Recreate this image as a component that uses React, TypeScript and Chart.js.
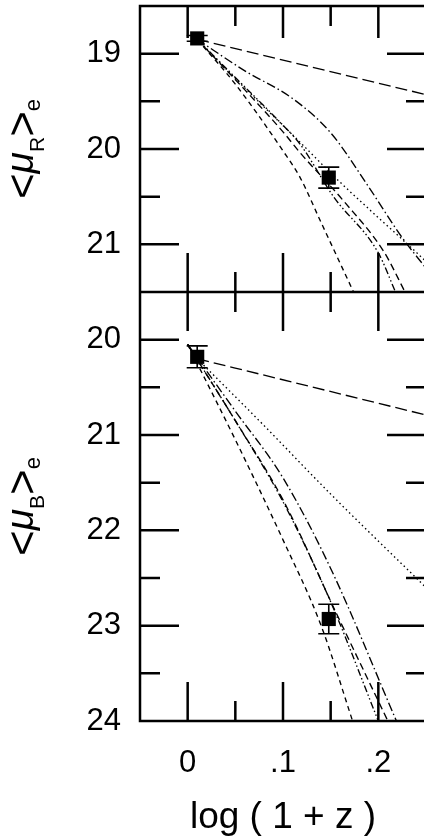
import React, { useEffect, useRef } from "react";
import { Chart, registerables } from "chart.js";

Chart.register(...registerables);

// ---- axis ticks ----
const xTickValues = [0, 0.1, 0.2];
const xTickLabels = ["0", ".1", ".2"];
const xMinorTicks = [0.05, 0.15];
const topYTicks = [19, 20, 21];
const topYMinor = [19.5, 20.5];
const botYTicks = [20, 21, 22, 23, 24];
const botYMinor = [20.5, 21.5, 22.5, 23.5];

// ---- observed points ----
const obsX = [0.01, 0.148];
const obsTopY = [18.84, 20.3];
const obsTopErr = [0.03, 0.11];
const obsBotY = [20.18, 22.93];
const obsBotErr = [0.115, 0.155];

// ---- model curves, top panel (R) ----
const topLongDash = [[0.01, 18.85], [0.25, 19.43]];
const topDashDotOuter = [[0.01, 18.85], [0.06, 19.18], [0.11, 19.47], [0.15, 19.83], [0.19, 20.4], [0.225, 20.93], [0.25, 21.25]];
const topDotted = [[0.01, 18.85], [0.06, 19.36], [0.118, 19.93], [0.158, 20.33], [0.2, 20.72], [0.234, 21.03], [0.25, 21.18]];
const topDashDotDot = [[0.01, 18.85], [0.055, 19.3], [0.097, 19.72], [0.118, 19.95], [0.153, 20.5], [0.2, 21.09], [0.218, 21.5]];
const topDashMid = [[0.01, 18.85], [0.06, 19.38], [0.1, 19.82], [0.118, 20.04], [0.164, 20.55], [0.206, 21.08], [0.228, 21.5]];
const topDashLeft = [[0.01, 18.85], [0.05, 19.32], [0.1, 20.02], [0.118, 20.3], [0.139, 20.75], [0.174, 21.5]];

// ---- model curves, bottom panel (B) ----
const botLongDash = [[0.01, 20.2], [0.25, 20.79]];
const botDotted = [[0.01, 20.2], [0.08, 20.9], [0.15, 21.62], [0.25, 22.6]];
const botDashLeft = [[0, 20.05], [0.05, 21.05], [0.1, 22.1], [0.14, 23.0], [0.173, 24.0]];
const botDashDotDot = [[0, 20.05], [0.05, 20.85], [0.1, 21.7], [0.15, 22.75], [0.2, 24.0]];
const botDashMid = [[0, 20.05], [0.05, 20.85], [0.1, 21.68], [0.155, 22.85], [0.21, 24.0]];
const botDashDotOuter = [[0, 20.05], [0.05, 20.75], [0.1, 21.45], [0.15, 22.4], [0.219, 24.0]];

const FONT = '"Liberation Sans", Arial, Helvetica, sans-serif';

const errorBarPlugin = {
  id: "errorBars",
  afterDatasetsDraw(chart: any) {
    const ctx = chart.ctx;
    const xs = chart.scales.x;
    const sets: any[] = [
      [chart.scales.yTop, obsTopY, obsTopErr],
      [chart.scales.yBot, obsBotY, obsBotErr],
    ];
    ctx.save();
    ctx.strokeStyle = "#000";
    ctx.lineWidth = 1.6;
    ctx.beginPath();
    sets.forEach(([ys, yv, ev]) => {
      obsX.forEach((xv, i) => {
        const px = xs.getPixelForValue(xv);
        const p1 = ys.getPixelForValue(yv[i] - ev[i]);
        const p2 = ys.getPixelForValue(yv[i] + ev[i]);
        ctx.moveTo(px, p1);
        ctx.lineTo(px, p2);
        ctx.moveTo(px - 10.5, p1);
        ctx.lineTo(px + 10.5, p1);
        ctx.moveTo(px - 10.5, p2);
        ctx.lineTo(px + 10.5, p2);
      });
    });
    ctx.stroke();
    ctx.restore();
  },
};

function drawMuTitle(ctx: CanvasRenderingContext2D, cx: number, cy: number, sub: string) {
  const pieces = [
    { t: "<", f: `44px ${FONT}`, v: 37 },
    { t: "\u03BC", f: `italic 39px ${FONT}`, v: 33 },
    { t: sub, f: `21px ${FONT}`, v: 44 },
    { t: ">", f: `44px ${FONT}`, v: 37 },
    { t: "e", f: `22px ${FONT}`, v: 40 },
  ];
  ctx.save();
  ctx.translate(cx, cy);
  ctx.rotate(-Math.PI / 2);
  ctx.fillStyle = "#000";
  ctx.textAlign = "left";
  ctx.textBaseline = "alphabetic";
  let total = 0;
  const widths = pieces.map((p) => {
    ctx.font = p.f;
    const w = ctx.measureText(p.t).width;
    total += w;
    return w;
  });
  let u = -total / 2;
  pieces.forEach((p, i) => {
    ctx.font = p.f;
    ctx.fillText(p.t, u, p.v);
    u += widths[i];
  });
  ctx.restore();
}

const framePlugin = {
  id: "frame",
  afterDraw(chart: any) {
    const { ctx, chartArea: a, scales } = chart;
    const xs = scales.x;
    const yt = scales.yTop;
    const yb = scales.yBot;
    const mid = yt.getPixelForValue(21.5);
    const MAJ = 39;
    const MIN = 20;
    const TOPMAJ = 32;
    ctx.save();
    ctx.strokeStyle = "#000";
    ctx.lineWidth = 2.5;
    ctx.beginPath();
    ctx.rect(a.left, a.top, a.right - a.left, a.bottom - a.top);
    ctx.moveTo(a.left, mid);
    ctx.lineTo(a.right, mid);
    const seg = (x1: number, y1: number, x2: number, y2: number) => {
      ctx.moveTo(x1, y1);
      ctx.lineTo(x2, y2);
    };
    const yTicks = (scale: any, majors: number[], minors: number[]) => {
      majors.forEach((v) => {
        const p = scale.getPixelForValue(v);
        seg(a.left, p, a.left + MAJ, p);
        seg(a.right, p, a.right - MAJ, p);
      });
      minors.forEach((v) => {
        const p = scale.getPixelForValue(v);
        seg(a.left, p, a.left + MIN, p);
        seg(a.right, p, a.right - MIN, p);
      });
    };
    yTicks(yt, topYTicks, topYMinor);
    yTicks(yb, botYTicks, botYMinor);
    const xTick = (v: number, len: number, topLen: number) => {
      const p = xs.getPixelForValue(v);
      seg(p, a.top, p, a.top + topLen);
      seg(p, mid, p, mid - len);
      seg(p, mid, p, mid + len);
      seg(p, a.bottom, p, a.bottom - len);
    };
    xTickValues.forEach((v) => xTick(v, MAJ, TOPMAJ));
    xMinorTicks.forEach((v) => xTick(v, MIN, MIN));
    ctx.stroke();

    // tick labels
    ctx.fillStyle = "#000";
    ctx.font = `31px ${FONT}`;
    ctx.textAlign = "right";
    ctx.textBaseline = "middle";
    topYTicks.forEach((v) => ctx.fillText(String(v), 121, yt.getPixelForValue(v)));
    botYTicks.forEach((v) => ctx.fillText(String(v), 121, yb.getPixelForValue(v)));
    ctx.textAlign = "center";
    xTickValues.forEach((v, i) => ctx.fillText(xTickLabels[i], xs.getPixelForValue(v), 763));

    // axis title
    ctx.font = `37px ${FONT}`;
    ctx.textBaseline = "alphabetic";
    ctx.fillText("log ( 1 + z )", (xs.getPixelForValue(0) + xs.getPixelForValue(0.2)) / 2, 828);
    ctx.restore();

    drawMuTitle(ctx, 0, (a.top + mid) / 2, "R");
    drawMuTitle(ctx, 0, (mid + a.bottom) / 2, "B");
  },
};

function curve(data: number[][], dash: number[], yAxisID: string) {
  return {
    type: "line",
    data: data.map(([x, y]) => ({ x, y })),
    borderColor: "#000",
    borderWidth: 1.35,
    borderDash: dash,
    pointRadius: 0,
    fill: false,
    cubicInterpolationMode: "monotone",
    yAxisID,
  };
}

function points(ys: number[], yAxisID: string) {
  return {
    type: "line",
    data: obsX.map((x, i) => ({ x, y: ys[i] })),
    showLine: false,
    pointStyle: "rect",
    pointRadius: 10,
    pointBackgroundColor: "#000",
    pointBorderWidth: 0,
    borderColor: "#000",
    yAxisID,
  };
}

const LONGDASH = [12, 5];
const DASHDOT = [9, 3, 1.5, 3];
const DOTTED = [1.5, 3];
const DASHDOTDOT = [7, 2.5, 1.5, 2.5, 1.5, 2.5];
const DASHMID = [7, 4];
const DASHSHORT = [5, 4];

export default function App() {
  const ref = useRef<HTMLCanvasElement>(null);
  useEffect(() => {
    const canvas = ref.current;
    if (!canvas) return;
    const chart = new Chart(canvas, {
      type: "line",
      data: {
        datasets: [
          curve(topLongDash, LONGDASH, "yTop"),
          curve(topDashDotOuter, DASHDOT, "yTop"),
          curve(topDotted, DOTTED, "yTop"),
          curve(topDashDotDot, DASHDOTDOT, "yTop"),
          curve(topDashMid, DASHMID, "yTop"),
          curve(topDashLeft, DASHSHORT, "yTop"),
          curve(botLongDash, LONGDASH, "yBot"),
          curve(botDotted, DOTTED, "yBot"),
          curve(botDashLeft, DASHSHORT, "yBot"),
          curve(botDashDotDot, DASHDOTDOT, "yBot"),
          curve(botDashMid, DASHMID, "yBot"),
          curve(botDashDotOuter, DASHDOT, "yBot"),
          points(obsTopY, "yTop"),
          points(obsBotY, "yBot"),
        ] as any,
      },
      options: {
        animation: false,
        responsive: false,
        events: [],
        layout: { autoPadding: false, padding: { left: 140, top: 6, right: 4, bottom: 116 } },
        plugins: { legend: { display: false }, tooltip: { enabled: false } },
        scales: {
          x: { type: "linear", min: -0.05, max: 0.25, display: false },
          yTop: { type: "linear", min: 18.5, max: 26, reverse: true, display: false },
          yBot: { type: "linear", min: 16.5, max: 24, reverse: true, display: false },
        },
      } as any,
      plugins: [errorBarPlugin, framePlugin],
    });
    return () => chart.destroy();
  }, []);
  return (
    <div
      style={{
        position: "absolute",
        left: 0,
        top: 0,
        width: 424,
        height: 837,
        overflow: "hidden",
        background: "#fff",
      }}
    >
      <canvas ref={ref} width={430} height={837} style={{ display: "block", width: 430, height: 837 }} />
    </div>
  );
}
